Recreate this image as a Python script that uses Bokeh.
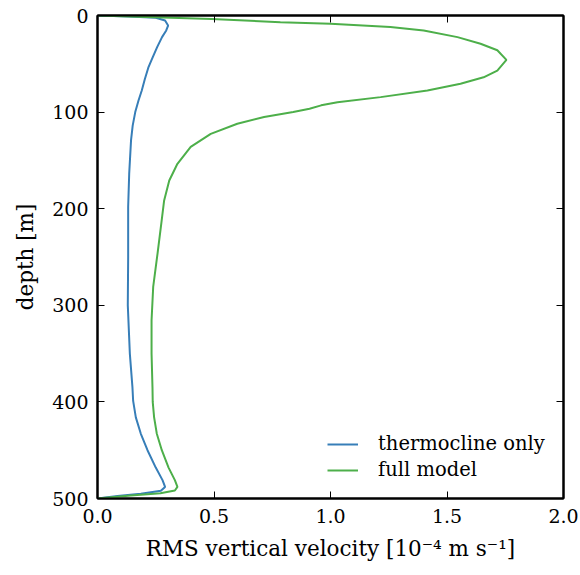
from bokeh.plotting import figure
from bokeh.models import Range1d, LinearAxis, FixedTicker, Legend, LegendItem
from bokeh.embed import file_html
from bokeh.resources import INLINE

# depth [m] and RMS vertical velocity [1e-4 m/s]
depth_thermo = [0, 1, 2.4, 5.2, 10.4, 15.5, 22.4, 32.8, 45, 54, 66, 77.6, 88, 100,
                114, 129, 164, 198, 250, 300, 350, 385, 399, 416, 433, 450, 468,
                481, 488, 492, 495, 497.5, 500]
vel_thermo = [0, 0.135, 0.25, 0.29, 0.303, 0.295, 0.277, 0.256, 0.234, 0.218,
              0.203, 0.19, 0.176, 0.162, 0.151, 0.144, 0.136, 0.1316, 0.1316, 0.13,
              0.1388, 0.15, 0.153, 0.1645, 0.186, 0.2146, 0.25, 0.279, 0.29,
              0.272, 0.186, 0.086, 0]

depth_full = [0, 3.5, 6.9, 8.6, 12, 15.5, 22.4, 29.3, 36, 45.9, 57, 64, 70.7, 77.6,
              84.5, 89.7, 93, 96.6, 100, 105, 112, 122.5, 136, 153.5, 170.8,
              191.5, 215, 246.7, 281, 315.7, 350, 385, 400, 416, 433, 450, 468,
              481, 488, 491.7, 494.5, 497, 500]
vel_full = [0, 0.49, 0.785, 1.0, 1.257, 1.40, 1.545, 1.644, 1.716, 1.755, 1.716,
            1.657, 1.558, 1.416, 1.215, 1.03, 0.96, 0.91, 0.84, 0.715, 0.60, 0.486,
            0.40, 0.343, 0.308, 0.286, 0.274, 0.2575, 0.239, 0.232, 0.232, 0.236,
            0.237, 0.243, 0.2546, 0.276, 0.305, 0.332, 0.343, 0.332, 0.27, 0.143, 0]

labels = ["thermocline only", "full model"]
colors = ["#377eb8", "#4daf4a"]
x_ticks = [0.0, 0.5, 1.0, 1.5, 2.0]
y_ticks = [0, 100, 200, 300, 400, 500]

FONT = "DejaVu Serif"

p = figure(width=580, height=575, output_backend="svg", toolbar_location=None,
           x_range=Range1d(0, 2.0), y_range=Range1d(500, 0),
           min_border_left=97, min_border_right=17, min_border_top=15,
           min_border_bottom=77)
p.grid.visible = False
p.outline_line_color = "black"
p.outline_line_width = 2
p.background_fill_color = "white"
p.border_fill_color = "white"

r1 = p.line(vel_thermo, depth_thermo, line_color=colors[0], line_width=2)
r2 = p.line(vel_full, depth_full, line_color=colors[1], line_width=2)

def style(ax, ticks, show_labels):
    ax.ticker = FixedTicker(ticks=ticks)
    ax.major_tick_in = 7
    ax.major_tick_out = 0
    ax.minor_tick_line_color = None
    ax.major_tick_line_color = "black"
    ax.major_tick_line_width = 1
    ax.axis_line_color = "black"
    ax.axis_line_width = 2
    ax.major_label_text_font = FONT
    ax.major_label_text_font_size = "19px" if show_labels else "0px"
    ax.major_label_text_color = "black"
    if not show_labels:
        ax.major_label_text_alpha = 0

xa = p.xaxis[0]
ya = p.yaxis[0]
style(xa, x_ticks, True)
style(ya, y_ticks, True)
xa.major_label_overrides = {t: f"{t:.1f}" for t in x_ticks}
xa.major_label_standoff = 10
ya.major_label_standoff = 9
xa.axis_label = "RMS vertical velocity [10\u207b\u2074 m s\u207b\u00b9]"
ya.axis_label = "depth [m]"
for ax in (xa, ya):
    ax.axis_label_text_font = FONT
    ax.axis_label_text_font_size = "21.5px"
    ax.axis_label_text_font_style = "normal"
    ax.axis_label_text_color = "black"
xa.axis_label_standoff = 10
ya.axis_label_standoff = 11

top = LinearAxis()
right = LinearAxis()
style(top, x_ticks, False)
style(right, y_ticks, False)
p.add_layout(top, "above")
p.add_layout(right, "right")

legend = Legend(items=[LegendItem(label=labels[0], renderers=[r1]),
                       LegendItem(label=labels[1], renderers=[r2])],
                location=(230, 17), border_line_color=None,
                background_fill_alpha=0, label_text_font=FONT,
                label_text_font_size="19.5px", label_text_color="black",
                glyph_width=31, glyph_height=20,
                label_standoff=20, spacing=3, padding=10, margin=0,
                label_height=20)
p.add_layout(legend)

open("out.html", "w").write(file_html(p, INLINE))
